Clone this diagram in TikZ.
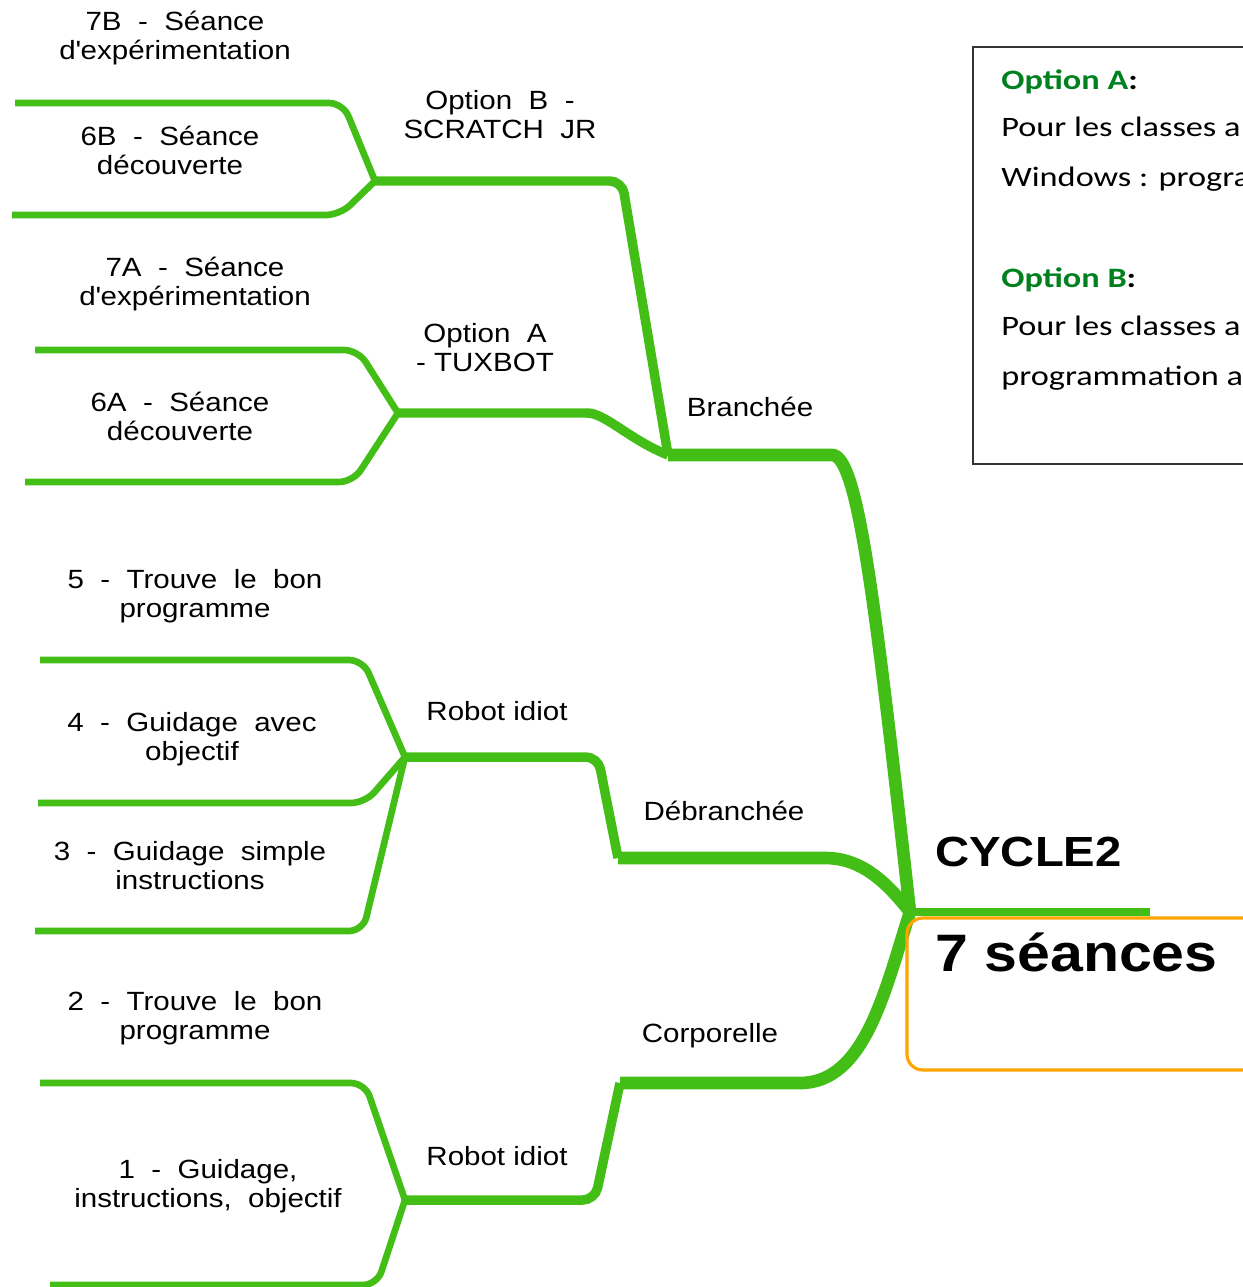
\documentclass[tikz,border=0pt]{standalone}
\usepackage{fontspec}
\setmainfont[FakeStretch=1.12]{Liberation Sans}
\newfontfamily\cadrefont[FakeStretch=1.22]{Carlito}
\definecolor{vertcarte}{RGB}{67,190,22}
\definecolor{vertoption}{RGB}{0,128,30}
\definecolor{orangeracine}{RGB}{255,165,0}

\begin{document}
\begin{tikzpicture}[
        x=0.02cm,
        y=-0.02cm,
        niveauA/.style={line width=7.2pt,color=vertcarte},
        niveauB/.style={line width=5.4pt,color=vertcarte,rounded corners=7pt},
        niveauC/.style={line width=3.8pt,color=vertcarte,rounded corners=8pt},
        etiquette/.style={align=center,inner sep=0pt,font=\fontsize{15}{16.5}\selectfont},
        cadretexte/.style={anchor=base west,inner sep=0pt,font=\cadrefont\fontsize{16}{18}\selectfont}]

\useasboundingbox (0,0) rectangle (1243,1287);

%Points de branchement
\coordinate (racine) at (910,912);
\coordinate (finracine) at (1150,912);
\coordinate (branchee) at (668,455);
\coordinate (debranchee) at (618,858);
\coordinate (corporelle) at (620,1083);
\coordinate (optionB) at (375,181);
\coordinate (optionA) at (398,413);
\coordinate (robotA) at (405,757);
\coordinate (robotB) at (405,1200);
%Extremites des branches
\coordinate (fin7B) at (15,103);
\coordinate (fin6B) at (12,215);
\coordinate (fin7A) at (35,350);
\coordinate (fin6A) at (25,482);
\coordinate (fin5) at (40,660);
\coordinate (fin4) at (38,803);
\coordinate (fin3) at (35,931);
\coordinate (fin2) at (40,1083);
\coordinate (fin1) at (50,1285);

%Branches principales
\draw[niveauA] (racine) .. controls (875,600) and (858,455) .. (832,455) -- (branchee);
\draw[niveauA] (racine) .. controls (885,880) and (860,858) .. (825,858) -- (debranchee);
\draw[niveauA] (racine) .. controls (885,990) and (865,1083) .. (800,1083) -- (corporelle);
\draw[line width=4.5pt,color=vertcarte] (racine) -- (finracine);
%Branches secondaires
\draw[niveauB] (branchee) -- ++(-46,-274) -- (optionB);
\draw[niveauB] (branchee) .. controls (630,440) and (605,413) .. (575,413) -- (optionA);
\draw[niveauB] (debranchee) -- ++(-20,-101) -- (robotA);
\draw[niveauB] (corporelle) -- ++(-25,117) -- (robotB);
%Seances
\draw[niveauC] (optionB) -- ++(-32,-78) -- (fin7B);
\draw[niveauC] (optionB) -- ++(-35,34) -- (fin6B);
\draw[niveauC] (optionA) -- ++(-40,-63) -- (fin7A);
\draw[niveauC] (optionA) -- ++(-45,69) -- (fin6A);
\draw[niveauC] (robotA) -- ++(-42,-97) -- (fin5);
\draw[niveauC] (robotA) -- ++(-40,46) -- (fin4);
\draw[niveauC] (robotA) -- ++(-42,174) -- (fin3);
\draw[niveauC] (robotB) -- ++(-40,-117) -- (fin2);
\draw[niveauC] (robotB) -- ++(-28,85) -- (fin1);

%Racine
\draw[orangeracine,line width=1.8pt,rounded corners=9pt] (907,918) rectangle (1265,1070);
\node[anchor=west,inner sep=0pt,font=\bfseries\fontsize{24}{26}\selectfont] (cycle) at (935,852) {CYCLE2};
\node[anchor=west,inner sep=0pt,font=\bfseries\fontsize{30}{32}\selectfont] (seances) at (935,952) {7 séances};

%Textes des branches
\node[etiquette] (txtbranchee) at (750,407) {Branchée};
\node[etiquette] (txtdebranchee) at (724,811) {Débranchée};
\node[etiquette] (txtcorporelle) at (710,1036) {Corporelle};
\node[etiquette] (txtoptionB) at (500,115) {Option~~B~~-\\SCRATCH~~JR};
\node[etiquette] (txtoptionA) at (485,348) {Option~~A\\- TUXBOT};
\node[etiquette] (txtrobotA) at (497,711) {Robot idiot};
\node[etiquette] (txtrobotB) at (497,1156) {Robot idiot};

\node[etiquette] (txt7B) at (175,38) {7B~~-~~Séance\\d\textquotesingle expérimentation};
\node[etiquette] (txt6B) at (170,150) {6B~~-~~Séance\\découverte};
\node[etiquette] (txt7A) at (195,284) {7A~~-~~Séance\\d\textquotesingle expérimentation};
\node[etiquette] (txt6A) at (180,416) {6A~~-~~Séance\\découverte};
\node[etiquette] (txt5) at (195,596) {5~~-~~Trouve~~le~~bon\\programme};
\node[etiquette] (txt4) at (192,739) {4~~-~~Guidage~~avec\\objectif};
\node[etiquette] (txt3) at (190,866) {3~~-~~Guidage~~simple\\instructions};
\node[etiquette] (txt2) at (195,1018) {2~~-~~Trouve~~le~~bon\\programme};
\node[etiquette] (txt1) at (208,1186) {1~~-~~Guidage,\\instructions,~~objectif};

%Cadre des options
\draw[line width=1pt,black!80] (973,47) rectangle (1265,464);
\node[cadretexte] (titreA) at (1001,90) {\textbf{\color{vertoption}Option A}\textbf{:}};
\node[cadretexte] (ligneA1) at (1001,137) {Pour les classes a};
\node[cadretexte] (ligneA2) at (1001,187) {Windows : progra};
\node[cadretexte] (titreB) at (1001,288) {\textbf{\color{vertoption}Option B}\textbf{:}};
\node[cadretexte] (ligneB1) at (1001,336) {Pour les classes a};
\node[cadretexte] (ligneB2) at (1001,385) {programmation a};

\end{tikzpicture}
\end{document}
